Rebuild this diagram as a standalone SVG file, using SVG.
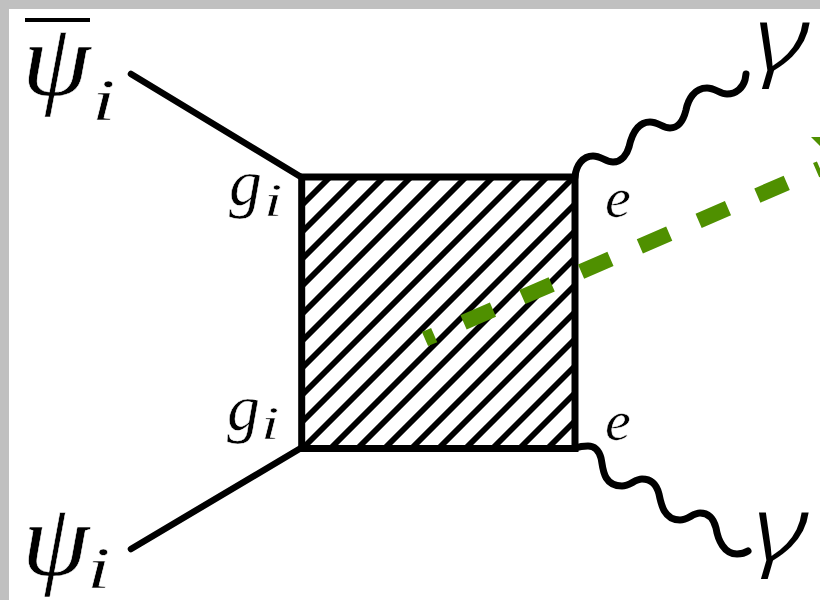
<svg xmlns="http://www.w3.org/2000/svg" width="820" height="600" viewBox="0 0 820 600">
<style>
.m{font-family:"Liberation Serif","DejaVu Serif",serif;font-style:italic;fill:#000}
.t{stroke:#fff;stroke-width:.5}
.big{font-size:103px}.sub{font-size:60px}.lab{font-size:66px}.s2{font-size:47px}.e{font-size:58px}
.gam{font-family:"Noto Sans","Liberation Sans",sans-serif;font-style:italic;fill:#000;font-size:90px;font-weight:300}
.l{fill:none;stroke:#000;stroke-linecap:round;stroke-width:6.5}
.w{stroke-width:7}
.h{stroke:#000;stroke-width:5.8}
</style>
<defs><clipPath id="c"><rect x="301" y="177" width="274" height="272"/></clipPath></defs>
<rect width="820" height="600" fill="#fff"/>
<path d="M0 0H820V9H9V600H0Z" fill="#c0c0c0"/>
<g id="box">
<g clip-path="url(#c)" id="hatch">
<path class="h" d="M301 206L330 177M301 233L357 177M301 260L384 177M301 287L411 177M301 315L439 177M301 342L466 177M301 369L493 177M301 396L520 177M301 423L547 177M301 450L575 176M330 449L575 204M357 449L575 231M384 449L575 258M411 449L575 285M438 449L575 312M465 449L575 339M492 449L575 366M519 449L575 393M547 449L575 421"/>
</g>
<rect x="301.7" y="177" width="273.3" height="271.5" fill="none" stroke="#000" stroke-width="7"/>
</g>
<g id="connectors">
<path class="l" d="M131 74L301 177"/>
<path class="l" d="M131 549L301 448"/>
<path class="l w" d="M575 177C576 165 583 156 593 156C601 156 606 162 613 162C622 162 627 154 629 147C631 138 636 122 650 122C658 122 663 128 670 128C680 128 684 118 686 110C688 100 694 88 707 88C715 88 720 94 727 94C737 94 743 87 745 80L746 74"/>
<path class="l w" d="M575 448C578 447 583 446 588 446C595 446 599 451 601 458C603 466 602 486 622 486C630 486 635 479 642 479C652 479 657 486 659 494C661 504 664 520 680 520C688 520 693 513 700 513C710 513 714 520 716 528C718 540 724 554 737 554C741 554 745 553 748 551"/>
<path fill="none" stroke="#4f9000" stroke-width="15.5" stroke-dasharray="32 32" stroke-dashoffset="22" d="M425 339L820 168.5"/>
<path fill="#4f9000" d="M811 137L820 137V146Z"/>
</g>
<g id="psibar"><rect x="25" y="18" width="65" height="4"/><text class="m big t" transform="translate(22 95) scale(1.07 1)">ψ</text><text class="m sub t" transform="translate(92 119.5) scale(1.4 1)">i</text></g>
<g id="psi"><text class="m big t" transform="translate(22 575) scale(1.05 1)">ψ</text><text class="m sub t" transform="translate(87 588) scale(1.4 1)">i</text></g>
<g id="g1"><text class="m lab t" x="229" y="205">g</text><text class="m s2 t" transform="translate(264 216) scale(1.4 1)">i</text></g>
<g id="g2"><text class="m lab t" x="227" y="430">g</text><text class="m s2 t" transform="translate(261 439) scale(1.4 1)">i</text></g>
<g id="e1"><text class="m e t" x="605" y="217">e</text></g>
<g id="e2"><text class="m e t" x="605" y="440">e</text></g>
<g id="gamma1"><text class="gam" transform="translate(754 70) scale(1.35 1)">γ</text></g>
<g id="gamma2"><text class="gam" transform="translate(753 560) scale(1.35 1)">γ</text></g>
</svg>
